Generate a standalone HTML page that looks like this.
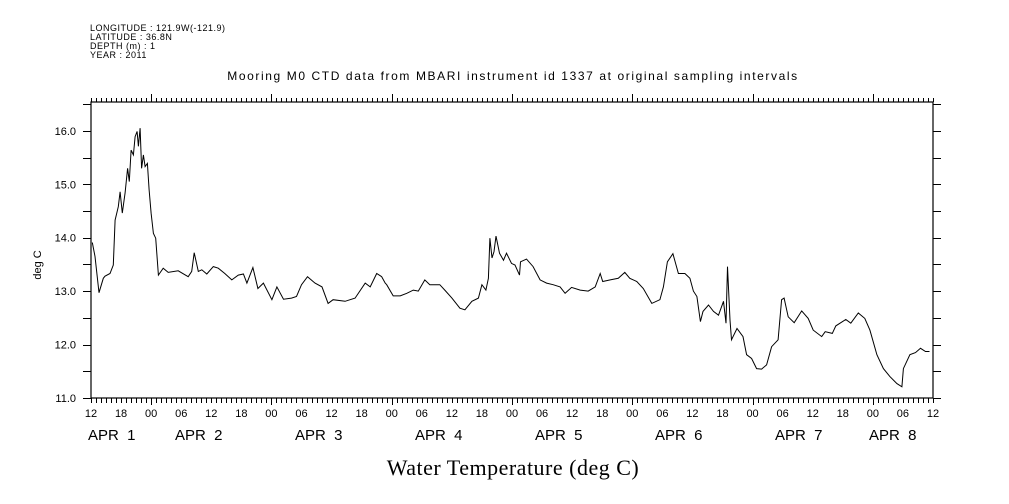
<!DOCTYPE html>
<html><head><meta charset="utf-8"><style>
body{margin:0;background:#fff;}
svg{display:block;font-family:"Liberation Sans",sans-serif;}
</style></head><body>
<svg id="c" width="1009" height="504">
<g font-size="9" fill="#000" letter-spacing="0.5">
<text x="90" y="31">LONGITUDE : 121.9W(-121.9)</text>
<text x="90" y="40">LATITUDE : 36.8N</text>
<text x="90" y="49">DEPTH (m) : 1</text>
<text x="90" y="58">YEAR : 2011</text>
</g>
<text x="513" y="80" font-size="12" text-anchor="middle" letter-spacing="1.6">Mooring M0 CTD data from MBARI instrument id 1337 at original sampling intervals</text>
<text x="0" y="0" font-size="11" text-anchor="middle" transform="translate(41,265) rotate(-90)">deg C</text>
<text x="513" y="475" font-size="22" text-anchor="middle" font-family="Liberation Serif, serif" letter-spacing="0.5">Water Temperature (deg C)</text>
<g id="axes"></g>
<g id="ticks"></g>
<path id="line" fill="none" stroke="#000" stroke-width="1"/>
</svg>
<script>
const hours=[0.26,0.8,1.6,2.45,2.8,3.8,4.45,4.8,5.45,5.8,6.25,6.8,7.3,7.65,8.0,8.45,8.8,9.2,9.45,9.8,10.1,10.45,10.8,11.25,11.6,12.0,12.45,12.9,13.45,14.4,15.4,17.4,19.4,20.1,20.6,21.4,22.1,23.1,24.4,25.4,26.7,28.1,29.4,30.4,31.1,32.3,33.3,34.4,36.1,37.1,38.4,40.0,41.0,42.0,43.2,44.7,46.1,47.3,48.3,50.7,52.7,54.7,55.7,57.0,58.0,58.7,59.0,60.3,61.7,63.0,64.3,65.3,66.6,67.6,69.6,70.6,72.0,73.6,74.6,76.0,77.3,78.0,78.8,79.3,79.6,80.0,80.4,80.8,81.5,82.3,82.9,83.9,84.6,85.5,85.7,86.9,88.2,89.6,90.9,92.2,93.6,94.6,95.9,97.6,99.2,100.6,101.6,102.1,103.6,105.2,106.5,107.5,108.9,110.2,111.9,113.5,114.2,115.0,116.1,117.2,118.5,119.5,120.2,120.9,121.6,122.1,123.2,124.2,125.2,126.2,126.7,127.0,127.5,127.8,128.9,130.1,130.8,131.8,132.8,133.8,134.8,135.8,137.1,137.8,138.3,139.1,140.3,141.8,143.1,144.1,145.8,146.5,147.9,148.6,150.6,151.6,153.1,154.4,155.4,156.8,158.1,159.4,160.8,161.8,162.1,163.4,164.5,165.5,166.5,167.3];
const temps=[13.91,13.65,12.97,13.24,13.28,13.33,13.49,14.33,14.58,14.86,14.46,14.84,15.30,15.05,15.64,15.55,15.89,15.99,15.71,16.05,15.30,15.55,15.33,15.39,14.90,14.46,14.08,13.99,13.30,13.43,13.35,13.38,13.27,13.37,13.72,13.37,13.40,13.32,13.46,13.43,13.33,13.21,13.30,13.32,13.15,13.44,13.05,13.15,12.84,13.08,12.85,12.87,12.90,13.12,13.27,13.15,13.08,12.77,12.84,12.81,12.87,13.15,13.08,13.33,13.27,13.15,13.12,12.91,12.91,12.96,13.02,13.00,13.21,13.12,13.12,13.02,12.87,12.68,12.65,12.81,12.87,13.12,13.02,13.24,13.99,13.62,13.74,14.03,13.71,13.58,13.71,13.52,13.49,13.30,13.55,13.60,13.46,13.21,13.15,13.12,13.08,12.96,13.07,13.02,13.00,13.08,13.33,13.18,13.21,13.24,13.35,13.24,13.18,13.05,12.77,12.84,13.08,13.55,13.70,13.33,13.33,13.24,13.00,12.90,12.43,12.62,12.74,12.62,12.55,12.81,12.40,13.46,12.46,12.09,12.30,12.15,11.81,11.74,11.55,11.54,11.62,11.96,12.09,12.84,12.87,12.52,12.41,12.63,12.49,12.27,12.15,12.24,12.21,12.35,12.47,12.40,12.59,12.49,12.27,11.81,11.55,11.40,11.27,11.21,11.55,11.81,11.85,11.93,11.87,11.87];
const yTickLabels=["11.0","12.0","13.0","14.0","15.0","16.0"];
const hourLabels=["12","18","00","06"];
const dayLabels=["APR  1","APR  2","APR  3","APR  4","APR  5","APR  6","APR  7","APR  8"];
const dayLabelX=[88,175,295,415,535,655,775,869];

const L=91,R=933,T=102,B=398,HMAX=168,YMIN=11,YMAX=16.54;
const xs=h=>L+h*(R-L)/HMAX;
const ys=v=>B-(v-YMIN)*(B-T)/(YMAX-YMIN);
const NS="http://www.w3.org/2000/svg";
const ax=document.getElementById('axes'),tk=document.getElementById('ticks');
function mk(tag,attrs,parent){const e=document.createElementNS(NS,tag);for(const k in attrs)e.setAttribute(k,attrs[k]);parent.appendChild(e);return e;}
const frame=mk('rect',{x:L,y:T,width:R-L,height:B-T,fill:'none',stroke:'#000','stroke-width':1.2},ax);


let d='';
for(let h=0;h<=HMAX;h++){
  const x=Math.round(xs(h))+0.5;const major=((h+12)%24===0);
  d+=`M${x} ${T}V${T-(major?8:4)}M${x} ${B}V${B+(major?7:5)}`;
}
for(let v=11;v<=16.5;v+=0.5){const y=Math.round(ys(v))+0.5;d+=`M${L-8} ${y}H${L}M${R} ${y}H${R+8}`;}
const tp=mk('path',{d:d,stroke:'#000','stroke-width':1,fill:'none'},tk);


yTickLabels.forEach(s=>{
  const t=mk('text',{x:76,y:ys(parseFloat(s))+4,'font-size':11,'text-anchor':'end'},tk);t.textContent=s;
  
  
});
for(let i=0;i<=28;i++){
  const t=mk('text',{x:xs(i*6),y:417,'font-size':11,'text-anchor':'middle'},tk);t.textContent=hourLabels[i%4];
  
  
}
dayLabels.forEach((s,i)=>{
  const t=mk('text',{x:dayLabelX[i],y:440,'font-size':15},tk);
  t.setAttribute('style','white-space:pre');t.textContent=s;
  
  
});
document.getElementById('line').setAttribute('d',hours.map((h,i)=>(i?'L':'M')+xs(h).toFixed(1)+' '+ys(temps[i]).toFixed(1)).join(''));
</script>
</body></html>
